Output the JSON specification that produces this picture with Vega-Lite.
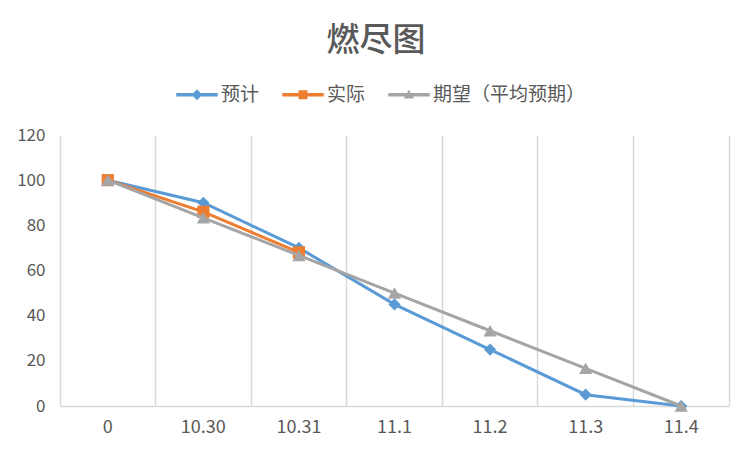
{
  "$schema": "https://vega.github.io/schema/vega-lite/v6.json",
  "width": 669,
  "height": 271,
  "autosize": {"type": "none"},
  "padding": {"left": 60, "top": 135, "right": 23, "bottom": 46},
  "background": "white",
  "title": {
    "text": "燃尽图",
    "font": "Noto Sans CJK SC",
    "fontSize": 33,
    "fontWeight": 500,
    "color": "#595959",
    "dx": -18.5,
    "offset": 27
  },
  "config": {
    "view": {"stroke": null},
    "font": "Noto Sans CJK SC"
  },
  "data": {
    "values": [
      {"date": "0", "series": "预计", "value": 100},
      {"date": "10.30", "series": "预计", "value": 90},
      {"date": "10.31", "series": "预计", "value": 70},
      {"date": "11.1", "series": "预计", "value": 45},
      {"date": "11.2", "series": "预计", "value": 25},
      {"date": "11.3", "series": "预计", "value": 5},
      {"date": "11.4", "series": "预计", "value": 0},
      {"date": "0", "series": "实际", "value": 100},
      {"date": "10.30", "series": "实际", "value": 86},
      {"date": "10.31", "series": "实际", "value": 68},
      {"date": "0", "series": "期望（平均预期）", "value": 100},
      {"date": "10.30", "series": "期望（平均预期）", "value": 83.33},
      {"date": "10.31", "series": "期望（平均预期）", "value": 66.67},
      {"date": "11.1", "series": "期望（平均预期）", "value": 50},
      {"date": "11.2", "series": "期望（平均预期）", "value": 33.33},
      {"date": "11.3", "series": "期望（平均预期）", "value": 16.67},
      {"date": "11.4", "series": "期望（平均预期）", "value": 0}
    ]
  },
  "encoding": {
    "x": {
      "field": "date",
      "type": "ordinal",
      "scale": {
        "type": "band",
        "domain": ["0", "10.30", "10.31", "11.1", "11.2", "11.3", "11.4"],
        "paddingInner": 0,
        "paddingOuter": 0
      },
      "axis": {
        "title": null,
        "bandPosition": 1,
        "ticks": false,
        "grid": true,
        "gridColor": "#D9D9D9",
        "gridWidth": 1.5,
        "domainColor": "#D9D9D9",
        "domainWidth": 1.5,
        "labelAngle": 0,
        "labelPadding": 12,
        "labelFontSize": 18,
        "labelColor": "#595959",
        "labelFont": "Noto Sans CJK SC"
      }
    },
    "y": {
      "field": "value",
      "type": "quantitative",
      "scale": {"domain": [0, 120]},
      "axis": {
        "title": null,
        "values": [0, 20, 40, 60, 80, 100, 120],
        "grid": false,
        "ticks": false,
        "domainColor": "#D9D9D9",
        "domainWidth": 1.5,
        "labelPadding": 15,
        "labelFontSize": 17,
        "labelColor": "#595959",
        "labelFont": "Noto Sans CJK SC"
      }
    }
  },
  "layer": [
    {
      "transform": [{"filter": {"field": "series", "equal": "预计"}}],
      "mark": {
        "type": "line",
        "strokeWidth": 3,
        "color": "#5B9BD5",
        "point": {"shape": "diamond", "size": 150, "filled": true, "opacity": 1, "color": "#5B9BD5"}
      }
    },
    {
      "transform": [{"filter": {"field": "series", "equal": "实际"}}],
      "mark": {
        "type": "line",
        "strokeWidth": 3,
        "color": "#ED7D31",
        "point": {"shape": "square", "size": 150, "filled": true, "opacity": 1, "color": "#ED7D31"}
      }
    },
    {
      "transform": [{"filter": {"field": "series", "equal": "期望（平均预期）"}}],
      "mark": {
        "type": "line",
        "strokeWidth": 3,
        "color": "#A5A5A5",
        "point": {"shape": "triangle-up", "size": 175, "filled": true, "opacity": 1, "color": "#A5A5A5"}
      }
    },
    {
      "transform": [{"filter": {"field": "series", "equal": "无"}}],
      "mark": {"type": "point", "filled": true, "opacity": 1},
      "encoding": {
        "color": {
          "field": "series",
          "type": "nominal",
          "scale": {"domain": ["预计", "实际", "期望（平均预期）"], "range": ["#5B9BD5", "#ED7D31", "#A5A5A5"]},
          "legend": {
            "title": null,
            "orient": "none",
            "legendX": 127.5,
            "legendY": -50,
            "direction": "horizontal",
            "symbolSize": 81,
            "symbolStrokeWidth": 0,
            "labelOffset": 14.5,
            "columnPadding": 22,
            "labelFontSize": 19,
            "labelColor": "#595959",
            "labelFont": "Noto Sans CJK SC",
            "padding": 0
          }
        },
        "shape": {
          "field": "series",
          "type": "nominal",
          "scale": {
            "domain": ["预计", "实际", "期望（平均预期）"],
            "range": [
              "M-4.6,-0.38H4.6V0.38H-4.6Z M0,-1.2L1.2,0L0,1.2L-1.2,0Z",
              "M-4.6,-0.38H4.6V0.38H-4.6Z M-1,-1H1V1H-1Z",
              "M-4.6,-0.38H4.6V0.38H-4.6Z M0,-1.1L1.15,0.85H-1.15Z"
            ]
          },
          "legend": {
            "title": null,
            "orient": "none",
            "legendX": 127.5,
            "legendY": -50,
            "direction": "horizontal",
            "symbolSize": 81,
            "symbolStrokeWidth": 0,
            "labelOffset": 14.5,
            "columnPadding": 22,
            "labelFontSize": 19,
            "labelColor": "#595959",
            "labelFont": "Noto Sans CJK SC",
            "padding": 0
          }
        }
      }
    }
  ]
}
